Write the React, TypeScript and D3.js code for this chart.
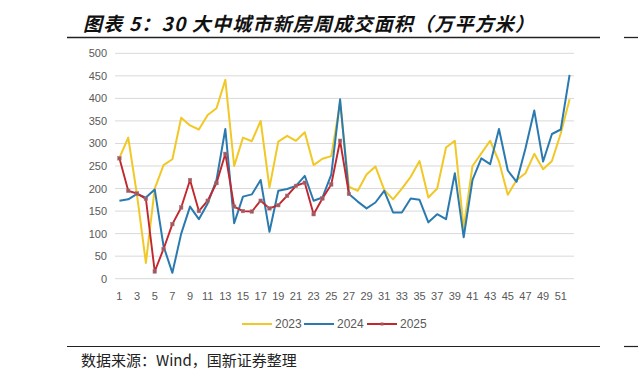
import React from "react";
import * as d3 from "d3";

const weeks: number[] = d3.range(1, 53);
const series2023: number[] = [268, 313, 185, 35, 200, 252, 265, 357, 340, 331, 363, 378, 441, 250, 313, 305, 350, 202, 304, 317, 306, 325, 252, 266, 272, 390, 204, 195, 231, 249, 197, 176, 200, 226, 261, 180, 200, 291, 306, 112, 250, 278, 306, 260, 186, 219, 234, 277, 243, 261, 322, 398];
const series2024: number[] = [173, 176, 188, 180, 198, 72, 13, 100, 160, 132, 167, 219, 332, 123, 182, 187, 219, 104, 195, 199, 206, 228, 173, 180, 231, 398, 188, 171, 156, 169, 195, 147, 147, 178, 175, 125, 143, 132, 234, 92, 219, 267, 254, 332, 240, 215, 289, 373, 260, 321, 331, 452];
const series2025: number[] = [267, 195, 189, 177, 16, 66, 121, 158, 219, 150, 173, 212, 277, 160, 150, 149, 173, 156, 163, 184, 206, 213, 143, 178, 209, 306, 188];
const yTicks: number[] = [0, 50, 100, 150, 200, 250, 300, 350, 400, 450, 500];
const xTickWeeks: number[] = weeks.filter((w) => w % 2 === 1);
const legendNames: string[] = ["2023", "2024", "2025"];

const YELLOW = "#F1C825";
const BLUE = "#2A7AB0";
const RED = "#C1272D";
const MARK = "#9C5A60";

export default function App() {
  const W = 638;
  const H = 381;
  const x = d3.scaleBand<number>().domain(weeks).range([115, 574]);
  const cx = (w: number) => (x(w) as number) + x.bandwidth() / 2;
  const y = d3.scaleLinear().domain([0, 500]).range([278.7, 53.3]);
  const line = d3
    .line<number>()
    .x((_, i) => cx(weeks[i]))
    .y((d) => y(d));
  const cjk = "'Noto Sans CJK SC', sans-serif";
  const num = "'Liberation Sans', Arial, sans-serif";
  const legendItems = [
    { name: legendNames[0], color: YELLOW, x0: 242, marker: false },
    { name: legendNames[1], color: BLUE, x0: 304, marker: false },
    { name: legendNames[2], color: RED, x0: 367, marker: true },
  ];
  return (
    <svg width={W} height={H} style={{ position: "absolute", left: 0, top: 0, background: "#fff" }}>
      <rect width={W} height={H} fill="#fff" />
      <text
        x={83}
        y={31}
        fontFamily={cjk}
        fontSize={19}
        fontWeight={700}
        fontStyle="italic"
        letterSpacing={1.2}
        fill="#111"
      >
        图表 5：30 大中城市新房周成交面积（万平方米）
      </text>
      <line x1={67} x2={600} y1={37.5} y2={37.5} stroke="#222" strokeWidth={1.3} />
      <line x1={624} x2={638} y1={37.5} y2={37.5} stroke="#222" strokeWidth={1.3} />

      {yTicks.map((t) => (
        <g key={t}>
          <line x1={115} x2={574} y1={y(t)} y2={y(t)} stroke="#D9D9D9" strokeWidth={1} />
          <text x={107} y={y(t) + 4} textAnchor="end" fontFamily={num} fontSize={11} fill="#595959">
            {t}
          </text>
        </g>
      ))}
      {xTickWeeks.map((w) => (
        <text key={w} x={cx(w)} y={300} textAnchor="middle" fontFamily={num} fontSize={11} fill="#595959">
          {w}
        </text>
      ))}

      <path d={line(series2023) || ""} fill="none" stroke={YELLOW} strokeWidth={2} strokeLinejoin="round" />
      <path d={line(series2024) || ""} fill="none" stroke={BLUE} strokeWidth={2} strokeLinejoin="round" />
      <path d={line(series2025) || ""} fill="none" stroke={RED} strokeWidth={1.9} strokeLinejoin="round" />
      {series2025.map((v, i) => (
        <rect
          key={i}
          x={cx(weeks[i]) - 1.75}
          y={y(v) - 1.75}
          width={3.5}
          height={3.5}
          fill={MARK}
          stroke="#B0707A"
          strokeWidth={0.5}
        />
      ))}

      {legendItems.map((it) => (
        <g key={it.name}>
          <line x1={it.x0} x2={it.x0 + 30} y1={324} y2={324} stroke={it.color} strokeWidth={2} />
          {it.marker && (
            <rect x={it.x0 + 13.5} y={322.5} width={3} height={3} fill={MARK} />
          )}
          <text x={it.x0 + 33} y={328} fontFamily={num} fontSize={12} fill="#595959">
            {it.name}
          </text>
        </g>
      ))}

      <line x1={67} x2={600} y1={346.5} y2={346.5} stroke="#222" strokeWidth={1.2} />
      <line x1={624} x2={638} y1={346.5} y2={346.5} stroke="#222" strokeWidth={1.2} />
      <text x={81} y={366} fontFamily={cjk} fontSize={15} fill="#222">
        数据来源：Wind，国新证券整理
      </text>
    </svg>
  );
}
